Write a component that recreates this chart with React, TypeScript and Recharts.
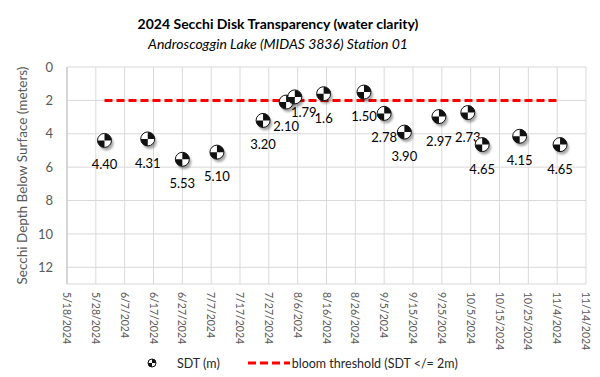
import React from "react";
import {
  ComposedChart,
  Scatter,
  Line,
  XAxis,
  YAxis,
  CartesianGrid,
  Legend,
  Label
} from "recharts";

// axis ticks, every 10 days
const tickDates = [
  "5/18/2024", "5/28/2024", "6/7/2024", "6/17/2024", "6/27/2024", "7/7/2024",
  "7/17/2024", "7/27/2024", "8/6/2024", "8/16/2024", "8/26/2024", "9/5/2024",
  "9/15/2024", "9/25/2024", "10/5/2024", "10/15/2024", "10/25/2024", "11/4/2024",
  "11/14/2024"
];
const depthTicks = [0, 2, 4, 6, 8, 10, 12];

// Secchi readings
const sampleDates = [
  "5/31/2024", "6/15/2024", "6/27/2024", "7/9/2024", "7/25/2024", "8/2/2024",
  "8/5/2024", "8/15/2024", "8/29/2024", "9/5/2024", "9/12/2024", "9/24/2024",
  "10/4/2024", "10/9/2024", "10/22/2024", "11/5/2024"
];
const sdtValues = [4.4, 4.31, 5.53, 5.1, 3.2, 2.1, 1.79, 1.6, 1.5, 2.78, 3.9, 2.97, 2.73, 4.65, 4.15, 4.65];
const sdtLabels = ["4.40", "4.31", "5.53", "5.10", "3.20", "2.10", "1.79", "1.6", "1.50", "2.78", "3.90", "2.97", "2.73", "4.65", "4.15", "4.65"];

// bloom threshold line
const thresholdDates = ["5/31/2024", "11/5/2024"];
const thresholdValues = [2, 2];

const FONT = "Lato, 'Open Sans', sans-serif";
const DAY = 86400000;

const toDay = (s: string) => {
  const [m, d, y] = s.split("/").map(Number);
  return Date.UTC(y, m - 1, d) / DAY;
};
const fmtDay = (n: number) => {
  const dt = new Date(n * DAY);
  return `${dt.getUTCMonth() + 1}/${dt.getUTCDate()}/${dt.getUTCFullYear()}`;
};

const sdtData = sampleDates.map((d, i) => ({ t: toDay(d), sdt: sdtValues[i], label: sdtLabels[i] }));
const thresholdData = thresholdDates.map((d, i) => ({ t: toDay(d), bloom: thresholdValues[i] }));

// label tweak for the crowded pair in early August
const labelNudge: Record<string, [number, number]> = { "1.79": [9, -9] };

const Disk = ({ cx, cy, r }: { cx: number; cy: number; r: number }) => (
  <g>
    <circle cx={cx} cy={cy} r={r} fill="#fff" stroke="#111" strokeWidth={1} />
    <path d={`M${cx},${cy} L${cx},${cy - r} A${r},${r} 0 0 1 ${cx + r},${cy} Z`} fill="#111" />
    <path d={`M${cx},${cy} L${cx},${cy + r} A${r},${r} 0 0 1 ${cx - r},${cy} Z`} fill="#111" />
  </g>
);

// eslint-disable-next-line @typescript-eslint/no-explicit-any
const SecchiMarker = (props: any) => {
  const { cx, cy, payload } = props;
  if (cx == null || cy == null) return null;
  const [dx, dy] = labelNudge[payload.label] || [0, 0];
  return (
    <g>
      <circle cx={cx + 2} cy={cy + 3} r={7} fill="rgba(0,0,0,0.35)" filter="url(#diskShadow)" />
      <Disk cx={cx} cy={cy} r={7} />
      <text
        x={cx + dx}
        y={cy + 24 + dy}
        textAnchor="middle"
        dominantBaseline="central"
        fontFamily={FONT}
        fontSize={13}
        fill="#000"
      >
        {payload.label}
      </text>
    </g>
  );
};

// eslint-disable-next-line @typescript-eslint/no-explicit-any
const DateTick = (props: any) => {
  const { x, y, payload } = props;
  return (
    <text
      transform={`translate(${x},${y}) rotate(90)`}
      textAnchor="start"
      dominantBaseline="central"
      fontFamily={FONT}
      fontSize={10.5}
      fill="#595959"
    >
      {fmtDay(payload.value)}
    </text>
  );
};

const LegendBox = () => (
  <div
    style={{
      display: "flex",
      alignItems: "center",
      marginLeft: 146,
      height: 20,
      fontFamily: FONT,
      fontSize: 12.5,
      color: "#262626"
    }}
  >
    <svg width={12} height={12}>
      <Disk cx={6} cy={6} r={4} />
    </svg>
    <span style={{ marginLeft: 19 }}>SDT (m)</span>
    <svg width={42} height={6} style={{ marginLeft: 28 }}>
      <line x1={0} y1={3} x2={42} y2={3} stroke="#ff0000" strokeWidth={3} strokeDasharray="8 4" />
    </svg>
    <span style={{ marginLeft: 2 }}>bloom threshold (SDT &lt;/= 2m)</span>
  </div>
);

export default function App() {
  return (
    <div style={{ position: "absolute", left: 0, top: 0, width: 600, height: 377, background: "#fff" }}>
      <div
        style={{
          position: "absolute",
          top: 15,
          left: 0,
          width: 556,
          textAlign: "center",
          fontFamily: FONT,
          fontWeight: "bold",
          fontSize: 14,
          lineHeight: "18px",
          color: "#000"
        }}
      >
        2024 Secchi Disk Transparency (water clarity)
      </div>
      <div
        style={{
          position: "absolute",
          top: 35,
          left: 0,
          width: 556,
          textAlign: "center",
          fontFamily: FONT,
          fontStyle: "italic",
          fontSize: 14,
          lineHeight: "18px",
          color: "#000"
        }}
      >
        Androscoggin Lake (MIDAS 3836) Station 01
      </div>
      <ComposedChart width={600} height={377} margin={{ top: 67, right: 14, bottom: 4, left: 0 }}>
        <defs>
          <filter id="diskShadow" x="-50%" y="-50%" width="200%" height="200%">
            <feGaussianBlur stdDeviation={1.2} />
          </filter>
        </defs>
        <CartesianGrid stroke="#d9d9d9" />
        <XAxis
          type="number"
          dataKey="t"
          domain={[toDay(tickDates[0]), toDay(tickDates[tickDates.length - 1])]}
          ticks={tickDates.map(toDay)}
          interval={0}
          axisLine={false}
          tickLine={false}
          height={69}
          tick={<DateTick />}
          allowDataOverflow
        />
        <YAxis
          type="number"
          reversed
          domain={[0, 13]}
          ticks={depthTicks}
          width={67}
          axisLine={{ stroke: "#bfbfbf" }}
          tickLine={false}
          tickMargin={8}
          tick={{ fill: "#595959", fontSize: 13, fontFamily: FONT }}
        >
          <Label
            value="Secchi Depth Below Surface (meters)"
            angle={-90}
            position="insideLeft"
            offset={22}
            style={{ textAnchor: "middle", fill: "#595959", fontSize: 13.5, fontFamily: FONT }}
          />
        </YAxis>
        <Line
          data={thresholdData}
          dataKey="bloom"
          name="bloom threshold (SDT </= 2m)"
          stroke="#ff0000"
          strokeWidth={3}
          strokeDasharray="8 4"
          dot={false}
          activeDot={false}
          isAnimationActive={false}
        />
        <Scatter
          data={sdtData}
          dataKey="sdt"
          name="SDT (m)"
          shape={SecchiMarker}
          isAnimationActive={false}
        />
        <Legend verticalAlign="bottom" content={<LegendBox />} />
      </ComposedChart>
    </div>
  );
}
